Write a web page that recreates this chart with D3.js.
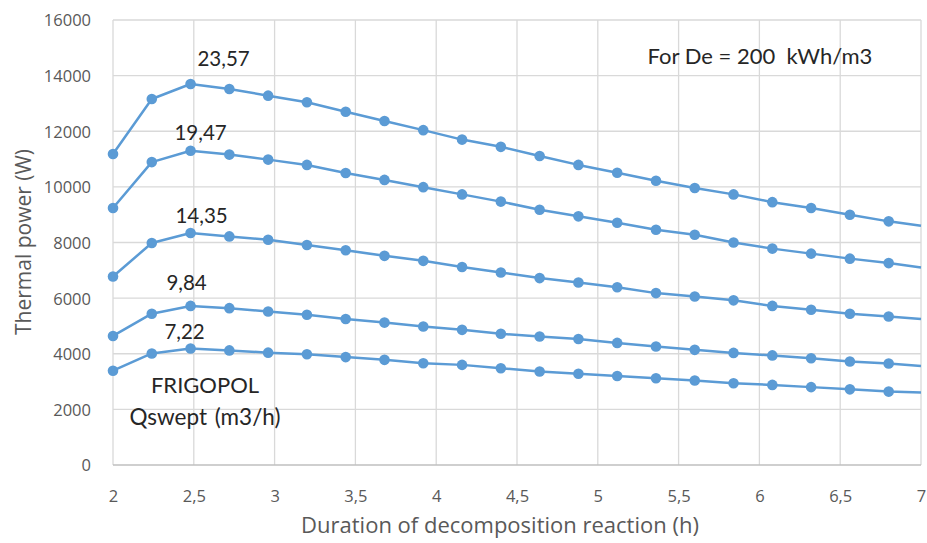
<!DOCTYPE html>
<html>
<head>
<meta charset="utf-8">
<script src="https://cdn.jsdelivr.net/npm/d3@7/dist/d3.min.js"></script>
<style>
  html, body { margin: 0; padding: 0; background: #fff; }
  svg { display: block; }
</style>
</head>
<body>
<svg id="chart" width="927" height="543"></svg>
<script>
// ---- data ----
const durations = [2.00, 2.24, 2.48, 2.72, 2.96, 3.20, 3.44, 3.68, 3.92, 4.16, 4.40,
                   4.64, 4.88, 5.12, 5.36, 5.60, 5.84, 6.08, 6.32, 6.56, 6.80, 7.00];
const seriesNames = ["23,57", "19,47", "14,35", "9,84", "7,22"];
const power_23_57 = [11180, 13160, 13700, 13520, 13280, 13040, 12700, 12370, 12040, 11700, 11440,
                     11110, 10790, 10510, 10220, 9960, 9730, 9450, 9240, 9000, 8760, 8600];
const power_19_47 = [9240, 10890, 11300, 11160, 10980, 10790, 10500, 10250, 9990, 9730, 9470,
                     9180, 8940, 8710, 8460, 8280, 8000, 7780, 7600, 7420, 7260, 7100];
const power_14_35 = [6780, 7980, 8340, 8220, 8100, 7910, 7720, 7520, 7340, 7120, 6920,
                     6720, 6560, 6390, 6180, 6060, 5920, 5720, 5580, 5440, 5340, 5250];
const power_9_84  = [4640, 5440, 5720, 5640, 5520, 5400, 5250, 5120, 4980, 4860, 4720,
                     4620, 4530, 4390, 4260, 4140, 4030, 3940, 3840, 3720, 3650, 3560];
const power_7_22  = [3390, 4010, 4190, 4120, 4040, 3980, 3880, 3780, 3660, 3600, 3480,
                     3360, 3280, 3200, 3120, 3040, 2940, 2880, 2800, 2720, 2640, 2610];
const allSeries = [power_23_57, power_19_47, power_14_35, power_9_84, power_7_22];
const xTicks = [2, 2.5, 3, 3.5, 4, 4.5, 5, 5.5, 6, 6.5, 7];
const xTickLabels = ["2", "2,5", "3", "3,5", "4", "4,5", "5", "5,5", "6", "6,5", "7"];
const yTicks = [0, 2000, 4000, 6000, 8000, 10000, 12000, 14000, 16000];
const xTitle = "Duration of decomposition reaction (h)";
const yTitle = "Thermal power (W)";
const noteText = "For De = 200\u00a0 kWh/m3";
const legendLines = ["FRIGOPOL", "Qswept (m3/h)"];
const peakIndex = 2; // where labels sit

// ---- layout ----
const svg = d3.select("#chart");
const L = 113, R = 921, T = 20, B = 465;
const x = d3.scaleLinear().domain([2, 7]).range([L, R]);
const y = d3.scaleLinear().domain([0, 16000]).range([B, T]);
const font = "Lato, 'Open Sans', sans-serif";
const axisFont = "'Open Sans', sans-serif";
const blue = "#5b9bd5";

// gridlines
const g = svg.append("g");
g.selectAll(".vg").data(xTicks).join("line")
  .attr("x1", d => x(d)).attr("x2", d => x(d))
  .attr("y1", T).attr("y2", B)
  .attr("stroke", "#d9d9d9").attr("stroke-width", 1.3);
g.selectAll(".hg").data(yTicks).join("line")
  .attr("x1", L).attr("x2", R)
  .attr("y1", d => y(d)).attr("y2", d => y(d))
  .attr("stroke", d => d === 0 ? "#bfbfbf" : "#d9d9d9").attr("stroke-width", 1.3);

// axes (tick labels only)
const xAxis = d3.axisBottom(x).tickValues(xTicks)
  .tickFormat((d, i) => xTickLabels[i]).tickSize(0).tickPadding(0);
const xa = svg.append("g").attr("transform", `translate(0,${B})`).call(xAxis);
xa.select(".domain").remove();
xa.selectAll("text").attr("dy", 0).attr("y", 37)
  .attr("font-family", axisFont).attr("font-size", 16.5).attr("fill", "#595959");

const yAxis = d3.axisLeft(y).tickValues(yTicks).tickFormat(d3.format("d")).tickSize(0).tickPadding(0);
const ya = svg.append("g").attr("transform", `translate(91,0)`).call(yAxis);
ya.select(".domain").remove();
ya.selectAll("text").attr("dy", "0.36em").attr("x", 0)
  .attr("font-family", axisFont).attr("font-size", 16.5).attr("fill", "#595959");

// titles
svg.append("text").attr("x", 500).attr("y", 533)
  .attr("text-anchor", "middle").attr("font-family", axisFont).attr("font-size", 22)
  .attr("fill", "#595959").text(xTitle);
svg.append("text").attr("transform", `translate(31,242) rotate(-90)`)
  .attr("text-anchor", "middle").attr("font-family", axisFont).attr("font-size", 21)
  .attr("fill", "#595959").text(yTitle);

// lines + markers
const line = d3.line().x((d, i) => x(durations[i])).y(d => y(d));
allSeries.forEach((s, si) => {
  svg.append("path").datum(s).attr("d", line)
    .attr("fill", "none").attr("stroke", blue).attr("stroke-width", 2.5)
    .attr("stroke-linejoin", "round");
  svg.append("g").selectAll("circle").data(s.slice(0, s.length - 1)).join("circle")
    .attr("cx", (d, i) => x(durations[i])).attr("cy", d => y(d)).attr("r", 5.3)
    .attr("fill", blue);
});

// series labels above peaks
const labelDx = [33, 10, 11, -4, -6];
const labelDy = [-18, -11, -10, -16, -9];
seriesNames.forEach((n, si) => {
  svg.append("text")
    .attr("x", x(durations[peakIndex]) + labelDx[si])
    .attr("y", y(allSeries[si][peakIndex]) + labelDy[si])
    .attr("text-anchor", "middle").attr("font-family", font).attr("font-size", 20.5)
    .attr("fill", "#262626").text(n);
});

// legend-like annotation
svg.append("text").attr("x", 205).attr("y", 393).attr("text-anchor", "middle")
  .attr("font-family", font).attr("font-size", 22).attr("fill", "#262626").text(legendLines[0]);
svg.append("text").attr("x", 205).attr("y", 425).attr("text-anchor", "middle")
  .attr("font-family", font).attr("font-size", 22.5).attr("fill", "#262626")
  .attr("word-spacing", 2).text(legendLines[1]);

// note
svg.append("text").attr("x", 760).attr("y", 64).attr("text-anchor", "middle")
  .attr("font-family", font).attr("font-size", 22).attr("fill", "#262626").text(noteText);
</script>
</body>
</html>
